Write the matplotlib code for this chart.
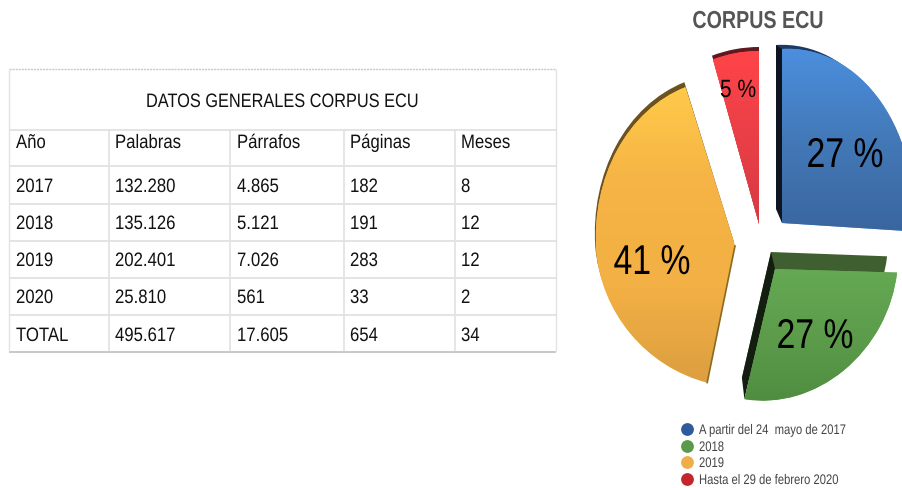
import numpy as np
import matplotlib
matplotlib.use("Agg")
import matplotlib.pyplot as plt
from matplotlib.patches import Wedge, Polygon
from matplotlib.patheffects import AbstractPathEffect
from matplotlib.transforms import Transform, Affine2D
from matplotlib.colors import LinearSegmentedColormap

# ---------- data ----------
table_title = "DATOS GENERALES CORPUS ECU"
table_header = ["Año", "Palabras", "Párrafos", "Páginas", "Meses"]
years = ["2017", "2018", "2019", "2020", "TOTAL"]
palabras = ["132.280", "135.126", "202.401", "25.810", "495.617"]
parrafos = ["4.865", "5.121", "7.026", "561", "17.605"]
paginas = ["182", "191", "283", "33", "654"]
meses = ["8", "12", "12", "2", "34"]

pie_title = "CORPUS ECU"
pie_values = [27, 27, 41, 5]
pie_labels = ["27 %", "27 %", "41 %", "5 %"]
legend_labels = ["A partir del 24  mayo de 2017", "2018", "2019", "Hasta el 29 de febrero 2020"]

# ---------- style ----------
SANS = ["Liberation Sans"]
legend_colors = ["#2F5A9B", "#5A9A4A", "#F0AE45", "#C0282E"]
grad_colors = [("#4C90E0", "#4379B8", "#3A659E"), ("#65A954", "#5C9C4B", "#4F8C40"),
               ("#FFC94A", "#F5B445", "#F3B044", "#DB9E40"), ("#FF4449", "#D53A45")]
rim_colors = ["#1D3A62", "#3F5F30", "#6B5220", "#5E1A20"]
side_colors = ["#0E1520", "#141E10", None, None]
# front and back geometry of every exploded slice: cx, cy, a, b_top, b_bottom, y shear, x shear
front = [(782, 224, 132, 174, 130, -0.06, 0), (775, 270, 123, 131, 131, -0.105, 0),
         (735, 247, 139, 167, 141, 0.0, -7), (759, 225, 149, 173, 173, 0.0, 0)]
back = [(776, 210, 128, 164, 130, -0.06, 0), (771, 253, 117, 131, 127, -0.10, 0),
        (734, 243, 139, 168, 141, 0.0, -7), (759, 225, 152, 177, 177, 0.0, 0)]
label_xy = [(845, 168), (815, 349), (652, 275), (738, 98)]
label_size = [30, 30, 30, 18]
label_sx = [0.81, 0.81, 0.81, 0.84]


class SliceMap(Transform):
    """Places a unit-circle slice in the figure, with its perspective squash."""
    input_dims = output_dims = 2

    def __init__(self, cx, cy, a, bt, bb, k, m):
        super().__init__()
        self.p = (cx, cy, a, bt, bb, k, m)

    def transform_non_affine(self, values):
        cx, cy, a, bt, bb, k, m = self.p
        values = np.asarray(values, float)
        x, y = values[:, 0], values[:, 1]
        return np.column_stack([cx + a * x + m * y,
                                cy - np.where(y > 0, bt, bb) * y + k * a * x])


class HScale(AbstractPathEffect):
    """Draws a text horizontally squeezed about x0, as the reference's is."""

    def __init__(self, x0, sx):
        super().__init__()
        self.t = Affine2D().translate(-x0, 0).scale(sx, 1).translate(x0, 0)

    def draw_path(self, renderer, gc, tpath, affine, rgbFace=None):
        renderer.draw_path(gc, tpath, affine + self.t, rgbFace)


def put(x, y, s, sx, **kw):
    ax.text(x, y, s, va="baseline", family=SANS, zorder=6,
            path_effects=[HScale(x, sx)], **kw)


fig = plt.figure(figsize=(9.02, 4.89), dpi=100, facecolor="white")
ax = fig.add_axes([0, 0, 1, 1])

wedges, _ = ax.pie(pie_values, startangle=90, counterclock=False)
ax.set_aspect("auto")
ax.set_xlim(0, 902)
ax.set_ylim(489, 0)
ax.axis("off")

for i, w in enumerate(wedges):
    F = SliceMap(*front[i])
    B = SliceMap(*back[i])
    ax.add_patch(Wedge((0, 0), 1, w.theta1, w.theta2, transform=B + ax.transData,
                       facecolor=rim_colors[i], edgecolor="none", zorder=1))
    w.set_transform(F + ax.transData)
    w.set_facecolor(grad_colors[i][0])
    w.set_edgecolor("none")
    w.set_zorder(3)
    pts = F.transform(np.array([[np.cos(np.radians(t)), np.sin(np.radians(t))]
                                for t in np.linspace(w.theta1, w.theta2, 40)]))
    x0, x1, y0 = pts[:, 0].min() - 40, pts[:, 0].max() + 40, pts[:, 1].min() - 5
    y1 = max(front[i][1] + 5, pts[:, 1].max() + 5)
    cmap = LinearSegmentedColormap.from_list("g", grad_colors[i])
    im = ax.imshow(np.linspace(0, 1, 64)[:, None], cmap=cmap, extent=(x0, x1, y1, y0),
                   aspect="auto", zorder=3.5)
    im.set_clip_path(w)
    if side_colors[i]:
        t = np.radians(w.theta2 if i == 0 else w.theta1)
        e = np.array([[np.cos(t), np.sin(t)]])
        o = np.zeros((1, 2))
        poly = np.vstack([F.transform(o), F.transform(e), B.transform(e), B.transform(o)])
        ax.add_patch(Polygon(poly, closed=True, facecolor=side_colors[i], edgecolor="none", zorder=2))
    put(label_xy[i][0], label_xy[i][1], pie_labels[i], label_sx[i], ha="center",
        fontsize=label_size[i], color="black")

# the yellow slice keeps a thin dark line along its straight upper edge
t = np.radians(wedges[2].theta2)
edge = SliceMap(*front[2]).transform(np.array([[0, 0], [np.cos(t), np.sin(t)]]))
ax.plot(edge[:, 0], edge[:, 1], color="#8A6A25", lw=1.2, zorder=4)

put(758, 29, pie_title, 0.80, ha="center", fontsize=17.7, color="#555555", fontweight="bold")

# legend
for yd, yb, c, s in zip([430, 447, 463, 480], [435, 452, 468, 485], legend_colors, legend_labels):
    ax.scatter([686.5], [yd], s=85, color=c, zorder=6, linewidths=0)
    put(699, yb, s, 0.81, ha="left", fontsize=10, color="#444444")

# table
h_lines = [130.5, 166.5, 204.5, 241.5, 278.5, 315.5]
v_lines = [109, 230, 344, 455]
col_x = [16, 115, 237, 350, 461]
row_y = [193, 230, 267, 304, 342]
line_c = "#E2E2E2"
ax.hlines(70, 9, 556, color="#C8C8C8", lw=1, linestyles=(0, (1.5, 0.7)))
ax.hlines(h_lines, 9, 556, color=line_c, lw=1.3)
ax.hlines(352.5, 9, 556, color="#C4C4C4", lw=1.3)
ax.vlines([9, 556], 70, 352, color=line_c, lw=1)
ax.vlines(v_lines, 130, 352, color=line_c, lw=1.2)

TXT = dict(ha="left", fontsize=14, color="#111111")
put(282.5, 108, table_title, 0.84, ha="center", fontsize=14, color="#111111")
for x, s in zip(col_x, table_header):
    put(x, 149, s, 0.86, **TXT)
for x, col in zip(col_x, [years, palabras, parrafos, paginas, meses]):
    for y, s in zip(row_y, col):
        put(x, y, s, 0.86, **TXT)

fig.savefig("out.png", dpi=100)
